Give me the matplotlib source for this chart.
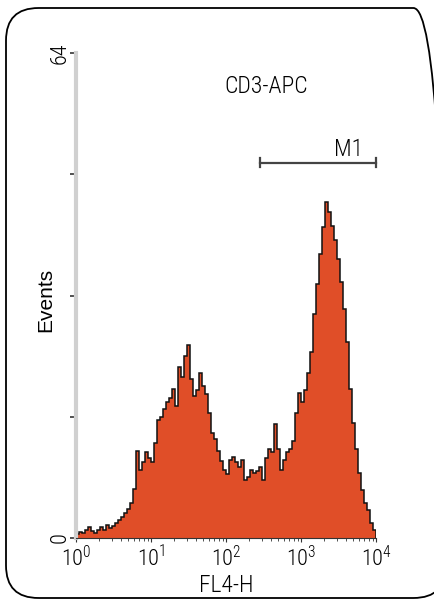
import numpy as np
import matplotlib
matplotlib.use("Agg")
import matplotlib.pyplot as plt
from matplotlib.patches import FancyBboxPatch
from matplotlib import font_manager

# histogram: 100 channels, 0.04 decade each, from 10^0 to 10^4
counts = [
    0.5, 0.8, 0.6, 1.0, 1.5, 0.9, 0.7, 1.1, 1.4, 1.0,
    1.7, 1.3, 1.6, 2.0, 2.4, 2.8, 3.3, 3.8, 4.6, 6.5,
    11.5, 9.0, 10.0, 11.4, 10.5, 10.0, 12.6, 15.6, 16.0, 17.0,
    17.9, 18.5, 19.6, 17.4, 22.6, 21.3, 24.0, 25.5, 21.0, 18.7,
    19.5, 21.8, 20.0, 19.0, 16.5, 13.9, 13.0, 11.5, 10.2, 9.0,
    8.5, 10.3, 10.7, 10.0, 9.4, 10.3, 7.7, 8.1, 9.0, 8.6,
    8.8, 9.4, 7.7, 10.5, 11.7, 11.3, 15.0, 11.7, 9.0, 10.3,
    11.3, 11.7, 12.8, 16.5, 19.2, 18.0, 19.5, 21.8, 24.5, 29.5,
    33.5, 37.5, 41.0, 44.4, 43.0, 41.2, 39.3, 36.8, 33.8, 30.2,
    25.8, 19.6, 15.2, 11.7, 8.6, 6.4, 4.6, 3.7, 2.0, 1.0,
]
decades = [0, 1, 2, 3, 4]
xtick_labels = [r"$\mathregular{10^{%d}}$" % d for d in decades]
ytick_values = [0, 16, 32, 48, 64]
ytick_labels = ["0", "", "", "", "64"]
gate_name = "M1"
gate_range = (280, 10000)
gate_level = 49.5
title = "CD3-APC"

# the original uses a condensed face; take one if the machine has it
names = {f.name for f in font_manager.fontManager.ttflist}
FONT = "Liberation Sans"
for cand in ["Roboto Condensed", "Liberation Sans Narrow", "Open Sans Condensed",
             "Noto Sans Condensed", "DejaVu Sans Condensed"]:
    if cand in names:
        FONT = cand
        break
plt.rcParams["font.family"] = [FONT, "DejaVu Sans"]
plt.rcParams["font.weight"] = "light"
plt.rcParams["axes.labelweight"] = "light"
plt.rcParams["mathtext.fontset"] = "custom"
plt.rcParams["mathtext.rm"] = FONT + ":light"

FILL = "#E04E28"

fig = plt.figure(figsize=(4.34, 6.06), dpi=100)
ax = fig.add_axes([76 / 434, 1 - 538 / 606, 300 / 434, 485 / 606])

# rounded frame around the whole panel
frame = FancyBboxPatch((6 / 434, 8 / 606), 440 / 434, 590 / 606,
                       boxstyle="round,pad=0,rounding_size=0.075",
                       transform=fig.transFigure, fill=False,
                       edgecolor="black", linewidth=1.3, clip_on=False,
                       mutation_aspect=434 / 606)
fig.patches.append(frame)

n = len(counts)
edges = 10 ** np.linspace(decades[0], decades[-1], n + 1)
ax.stairs(counts, edges, fill=True, color=FILL, linewidth=0)
ax.stairs(counts, edges, color="#111111", linewidth=1.1)

ax.set_xscale("log")
ax.set_xlim(10 ** decades[0], 10 ** decades[-1])
ax.set_ylim(0, 64)

for s in ["top", "right"]:
    ax.spines[s].set_visible(False)
ax.spines["left"].set_color("#d0d0d0")
ax.spines["left"].set_linewidth(3)
ax.spines["bottom"].set_color("#333333")
ax.spines["bottom"].set_linewidth(0.8)

ax.set_xticks([10 ** d for d in decades])
ax.set_xticklabels(xtick_labels, fontsize=16)
ax.tick_params(axis="x", which="major", length=3, width=0.8, pad=3, color="#333333")
ax.tick_params(axis="x", which="minor", length=2, width=0.6, color="#333333")

ax.set_yticks(ytick_values)
ax.set_yticklabels(ytick_labels, fontsize=16, rotation=90, va="center")
ax.tick_params(axis="y", length=4, width=1.2, color="#333333", pad=0)

ax.set_xlabel("FL4-H", fontsize=17, labelpad=2, fontweight="light")
fig.text(46 / 434, 1 - 300 / 606, "Events", rotation=90, fontsize=15,
         family="Liberation Sans", fontweight="normal", ha="center", va="center")

ax.text(0.633, 0.93, title, transform=ax.transAxes, fontsize=17,
        ha="center", va="center")

# marker gate
ax.plot(gate_range, [gate_level, gate_level], color="#444444", linewidth=1.6,
        clip_on=False)
for gx in gate_range:
    ax.plot([gx, gx], [gate_level - 0.6, gate_level + 0.6], color="#444444",
            linewidth=1.6, clip_on=False)
ax.text(0.91, 0.80, gate_name, transform=ax.transAxes, fontsize=17,
        ha="center", va="center")

fig.savefig("out.png", dpi=100)
